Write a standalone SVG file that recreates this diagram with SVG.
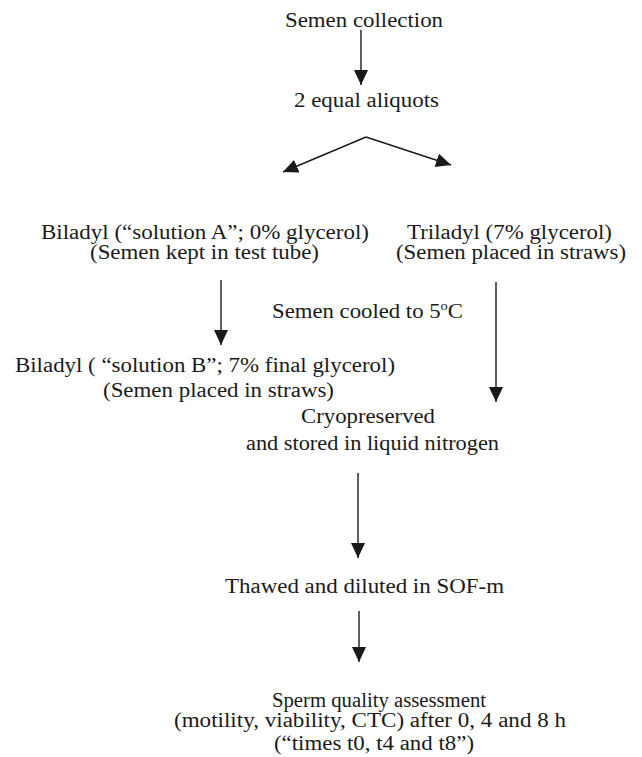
<svg xmlns="http://www.w3.org/2000/svg" width="642" height="757" viewBox="0 0 642 757">
<defs>
<style>
text{font-family:"Liberation Serif","Times New Roman",serif;font-size:20.5px;fill:#1a1a1a}
.c line{stroke:#1a1a1a;stroke-width:1.4;fill:none}
</style>
<marker id="ah" markerUnits="userSpaceOnUse" markerWidth="16" markerHeight="16" refX="15" refY="7" orient="auto" viewBox="0 0 16 16">
<path d="M0,0 L15,7 L0,14 Z" fill="#1a1a1a"/>
</marker>
</defs>
<rect width="642" height="757" fill="#ffffff"/>
<g id="n1"><text x="285" y="27" textLength="158" lengthAdjust="spacingAndGlyphs">Semen collection</text></g>
<g id="n2"><text x="294" y="107" textLength="145" lengthAdjust="spacingAndGlyphs">2 equal aliquots</text></g>
<g id="n3">
<text x="41" y="239" textLength="328" lengthAdjust="spacingAndGlyphs">Biladyl (“solution A”; 0% glycerol)</text>
<text x="90" y="259" textLength="229" lengthAdjust="spacingAndGlyphs">(Semen kept in test tube)</text>
</g>
<g id="n4">
<text x="407" y="239" textLength="205" lengthAdjust="spacingAndGlyphs">Triladyl (7% glycerol)</text>
<text x="396" y="259" textLength="230" lengthAdjust="spacingAndGlyphs">(Semen placed in straws)</text>
</g>
<g id="n5"><text x="272" y="318" textLength="191" lengthAdjust="spacingAndGlyphs">Semen cooled to 5<tspan font-size="13" dy="-8">o</tspan><tspan dy="8">C</tspan></text></g>
<g id="n6">
<text x="15" y="372" textLength="380" lengthAdjust="spacingAndGlyphs">Biladyl ( “solution B”; 7% final glycerol)</text>
<text x="103" y="397" textLength="231" lengthAdjust="spacingAndGlyphs">(Semen placed in straws)</text>
</g>
<g id="n7">
<text x="301" y="423" textLength="134" lengthAdjust="spacingAndGlyphs">Cryopreserved</text>
<text x="246" y="450" textLength="253" lengthAdjust="spacingAndGlyphs">and stored in liquid nitrogen</text>
</g>
<g id="n8"><text x="225" y="593" textLength="279" lengthAdjust="spacingAndGlyphs">Thawed and diluted in SOF-m</text></g>
<g id="n9">
<text x="272" y="707" textLength="214" lengthAdjust="spacingAndGlyphs">Sperm quality assessment</text>
<text x="174" y="727" textLength="392" lengthAdjust="spacingAndGlyphs">(motility, viability, CTC) after 0, 4 and 8 h</text>
<text x="274" y="750" textLength="200" lengthAdjust="spacingAndGlyphs">(“times t0, t4 and t8”)</text>
</g>
<g id="connectors" class="c">
<line x1="361" y1="30" x2="361" y2="85" marker-end="url(#ah)"/>
<line x1="366" y1="137" x2="283" y2="172" marker-end="url(#ah)"/>
<line x1="366" y1="137" x2="451" y2="165" marker-end="url(#ah)"/>
<line x1="221" y1="280" x2="221" y2="345" marker-end="url(#ah)"/>
<line x1="496" y1="282" x2="496" y2="402" marker-end="url(#ah)"/>
<line x1="358" y1="473" x2="358" y2="558" marker-end="url(#ah)"/>
<line x1="359" y1="611" x2="359" y2="662" marker-end="url(#ah)"/>
</g>
</svg>
